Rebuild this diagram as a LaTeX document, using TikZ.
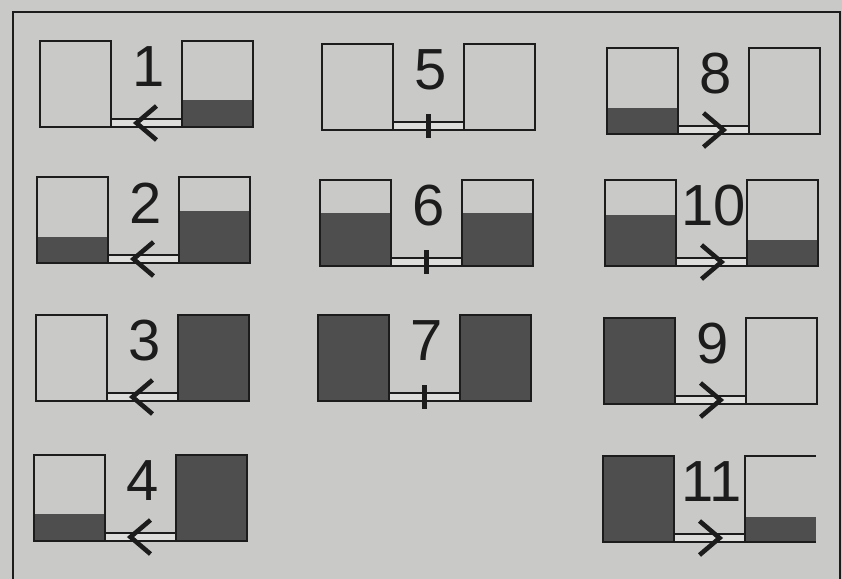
\documentclass[tikz,border=0pt]{standalone}
\usepackage{fontspec}
\setmainfont{Liberation Sans}
\usetikzlibrary{calc,positioning}
\definecolor{paper}{RGB}{201,201,199}
\definecolor{ink}{RGB}{28,28,28}
\definecolor{liquid}{RGB}{78,78,78}
\definecolor{pipein}{RGB}{222,222,220}
\begin{document}
\begin{tikzpicture}[x=0.5pt,y=-0.5pt]
  \tikzset{
    tank/.style={
      draw=ink, line width=0.9pt, inner sep=0pt, outer sep=0pt,
      minimum width=35.5pt, minimum height=43pt,
      path picture={
        \fill[liquid] (path picture bounding box.south west) rectangle
        ($(path picture bounding box.south east)!#1!(path picture bounding box.north east)$);
      }
    },
    pipe/.style={draw=ink, fill=pipein, line width=0.6pt},
    valve/.style={draw=ink, line width=2.3pt},
    num/.style={font=\fontsize{29}{30}\selectfont, text=ink, inner sep=0pt},
    frame/.style={draw=ink, line width=1.4pt},
  }
  % paper and frame
  \fill[paper] (0,0) rectangle (842,579);
  \useasboundingbox (0,0) rectangle (842,579);
  \draw[frame] (13,579) -- (13,12) -- (840,12) -- (840,579);

  % number / left tank corner / left level / right level / flow
  \foreach \n/\x/\y/\a/\b/\v in {1/40/41/0/0.31/-1, 2/37/177/0.3/0.6/-1,
      3/36/315/0/1/-1, 4/34/455/0.31/1/-1, 5/322/44/0/0/0,
      6/320/180/0.62/0.62/0, 7/318/315/1/1/0, 8/607/48/0.3/0/1,
      9/604/318/1/0/1, 10/605/180/0.59/0.3/1}{
    \node[tank=\a, anchor=north west] (l\n) at (\x,\y) {};
    \node[tank=\b, right=35.5pt of l\n] (r\n) {};
    \filldraw[pipe] (l\n.south east) rectangle ([yshift=4pt]r\n.south west);
    \coordinate (m\n) at ($(l\n.south east)!0.5!(r\n.south west)+(0,-4)$);
    \node[num] (t\n) at ($(l\n.north east)!0.5!(r\n.north west)+(2,26)$) {\n};
    \ifnum\v=0
      \draw[valve] ([yshift=6pt]m\n) -- ([yshift=-6pt]m\n);
    \else
      \draw[valve] ([shift={(-10*\v,-17)}]m\n) -- ([shift={(10*\v,0)}]m\n)
        -- ([shift={(-10*\v,17)}]m\n);
    \fi
  }

  % 11: right tank printed open on its right side
  \node[tank=1, anchor=north west] (l11) at (603,456) {};
  \node[tank=0.29, draw=none, right=35.5pt of l11] (r11) {};
  \draw[ink, line width=0.9pt] (r11.south east) -- (r11.south west)
    -- (r11.north west) -- (r11.north east);
  \filldraw[pipe] (l11.south east) rectangle ([yshift=4pt]r11.south west);
  \coordinate (m11) at ($(l11.south east)!0.5!(r11.south west)+(0,-4)$);
  \node[num] (t11) at ($(l11.north east)!0.5!(r11.north west)+(2,26)$) {11};
  \draw[valve] ([shift={(-10,-17)}]m11) -- ([shift={(10,0)}]m11)
    -- ([shift={(-10,17)}]m11);
\end{tikzpicture}
\end{document}
